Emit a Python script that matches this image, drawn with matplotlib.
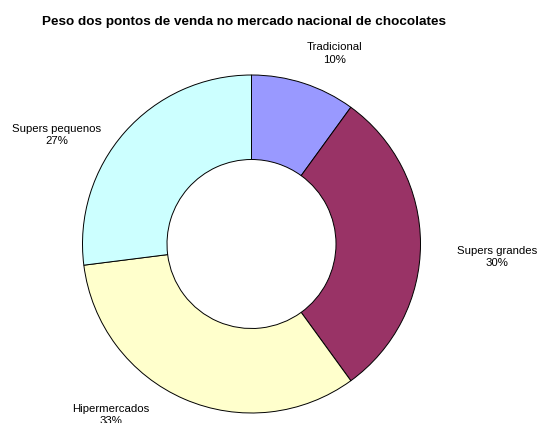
import numpy as np
import matplotlib
matplotlib.use("Agg")
import matplotlib.pyplot as plt

plt.rcParams['font.family'] = ['Liberation Sans', 'DejaVu Sans']

categories = ["Tradicional", "Supers grandes", "Hipermercados", "Supers pequenos"]
shares = [10, 30, 33, 27]
colors = ["#9999FF", "#993366", "#FFFFCC", "#CCFFFF"]
title = "Peso dos pontos de venda no mercado nacional de chocolates"

# label placement: (angle in degrees, distance in radii) from the ring centre
label_layout = [(66.4, 1.23), (-3.0, 1.455), (230.6, 1.31), (150.7, 1.32)]

W, H = 539, 423
fig = plt.figure(figsize=(W / 100, H / 100), dpi=100)
ax = fig.add_axes([0, 0, 1, 1])

cx, cy, r = 251.5, H - 244, 169
ax.pie(shares, colors=colors, startangle=90, counterclock=False,
       center=(cx, cy), radius=r, frame=True,
       wedgeprops=dict(width=r * 0.5, edgecolor='black', linewidth=0.7))
ax.set_xlim(0, W)
ax.set_ylim(0, H)
ax.set_aspect('equal')
ax.axis('off')

for name, val, (ang, dist) in zip(categories, shares, label_layout):
    a = np.deg2rad(ang)
    ax.text(cx + dist * r * np.cos(a), cy + dist * r * np.sin(a),
            f"{name}\n{val}%", ha='center', va='center', fontsize=8.2,
            linespacing=1.3, color='black')

fig.text(244 / W, 1 - 22 / H, title, ha='center', va='center',
         fontsize=9.7, fontweight='bold')

fig.savefig("out.png", dpi=100, facecolor='white')
